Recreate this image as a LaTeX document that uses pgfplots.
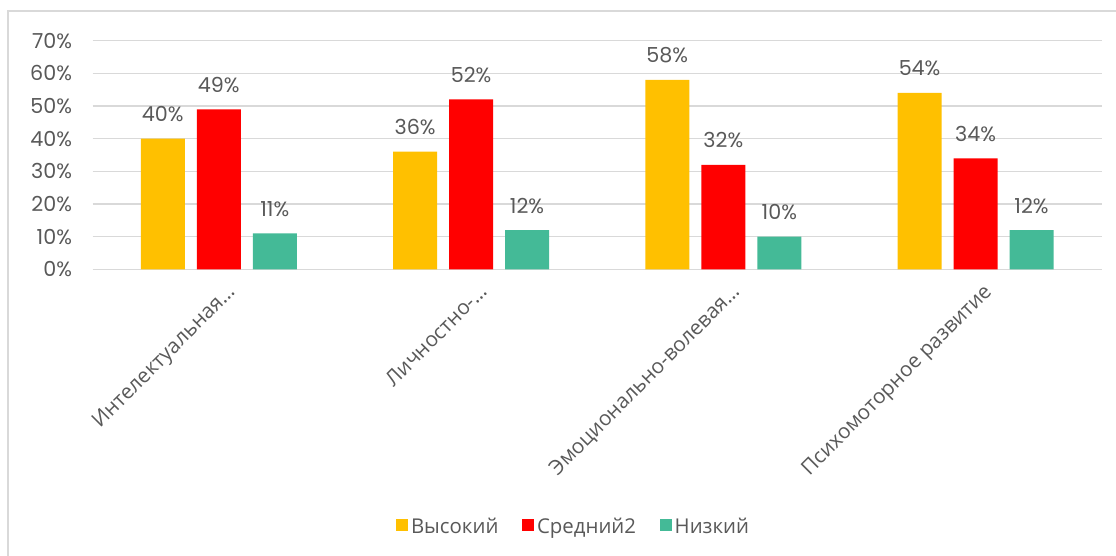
\documentclass[border=0pt]{standalone}
\usepackage{pgfplots}
\pgfplotsset{compat=1.18}
\usepackage{fontspec}
\setmainfont{Open Sans}
\newfontfamily\numfont{Poppins}
\definecolor{cyel}{HTML}{FFC000}
\definecolor{cred}{HTML}{FF0000}
\definecolor{cgrn}{HTML}{44BA97}
\definecolor{txt}{HTML}{595959}
\definecolor{grd}{HTML}{D9D9D9}
\begin{document}
\begin{tikzpicture}
\path[use as bounding box] (0pt,0pt) rectangle (837pt,417pt);
\draw[grd, line width=1.5pt] (6pt,0pt) -- (6pt,408.75pt) -- (837pt,408.75pt);
\begin{axis}[
  at={(69.525pt,215.025pt)}, anchor=south west,
  scale only axis,
  width=756.75pt, height=171.45pt,
  /pgf/number format/assume math mode=true,
  xmin=-0.5, xmax=3.5, ymin=0, ymax=70,
  ytick={0,10,...,70},
  xtick={0,1,2,3},
  xticklabels={Интелектуальная…,Личностно-…,Эмоционально-волевая…,Психомоторное развитие},
  yticklabel={\numfont\pgfmathprintnumber{\tick}\%},
  axis line style={draw=none},
  tick style={draw=none},
  ymajorgrids,
  grid style={grd, line width=1.1pt},
  every axis plot/.append style={ybar, bar width=0.1746, bar shift=0pt, draw=none},
  ticklabel style={font=\fontsize{15.5}{17}\selectfont, text=txt},
  yticklabel style={xshift=-12pt},
  xticklabel style={rotate=45, anchor=north east, font=\fontsize{15.5}{17}\selectfont, yshift=-7pt, xshift=0pt},
  nodes near coords={\numfont\pgfmathprintnumber{\pgfplotspointmeta}\%},
  every node near coord/.append style={font=\fontsize{15.5}{17}\selectfont, text=txt, anchor=south, yshift=9pt},
  legend style={at={(0.477,-1.127)}, anchor=center, draw=none, legend columns=3,
    font=\fontsize{15.3}{17}\selectfont, text=txt,
    /tikz/every even column/.append style={column sep=16pt}},
  legend image code/.code={\fill[#1] (0pt,-3pt) rectangle (9pt,6pt);},
  clip=false,
]
\addplot[fill=cyel] coordinates {(-0.222,40) (0.778,36) (1.778,58) (2.778,54)};
\addplot[fill=cred] coordinates {(0,49) (1,52) (2,32) (3,34)};
\addplot[fill=cgrn] coordinates {(0.222,11) (1.222,12) (2.222,10) (3.222,12)};
\legend{Высокий,Средний2,Низкий}
\end{axis}
\end{tikzpicture}
\end{document}
